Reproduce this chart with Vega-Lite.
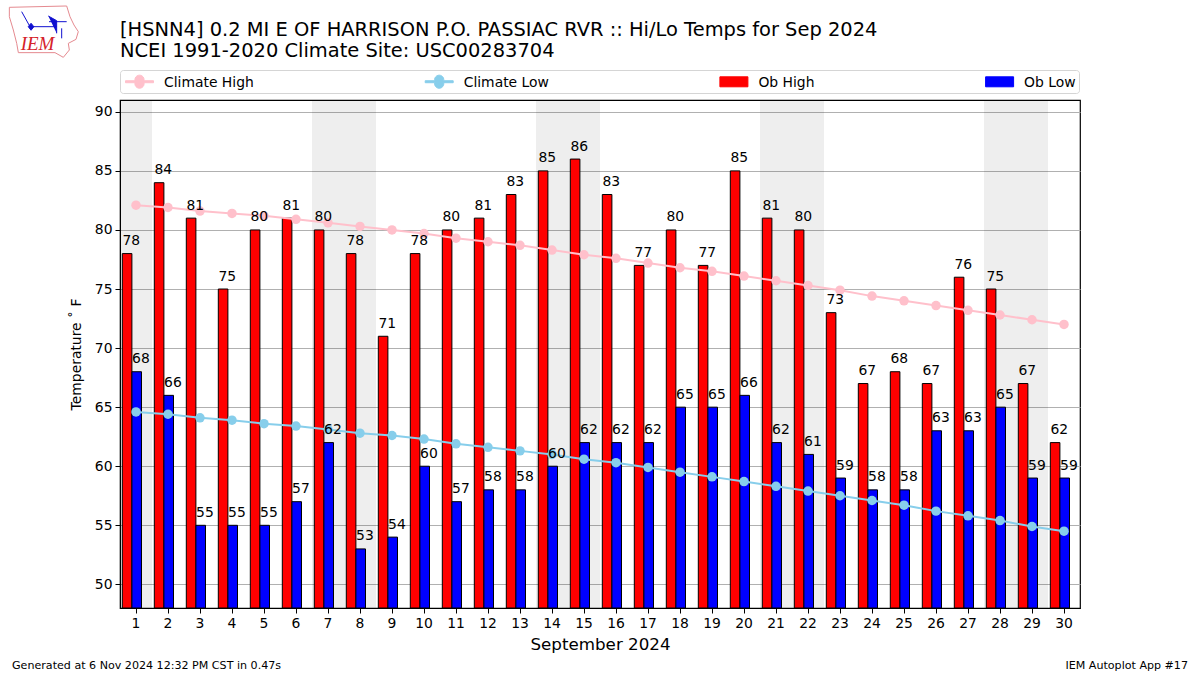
{
"$schema":"https://vega.github.io/schema/vega-lite/v6.json",
"width":960,"height":508,
"autosize":{"type":"none"},
"padding":{"left":120,"top":100,"right":120,"bottom":67},
"background":"white",
"title":{"text":["[HSNN4] 0.2 MI E OF HARRISON P.O. PASSIAC RVR :: Hi/Lo Temps for Sep 2024","NCEI 1991-2020 Climate Site: USC00283704"],"anchor":"start","frame":"group","font":"DejaVu Sans","fontSize":19.45,"fontWeight":"normal","color":"black","lineHeight":21,"offset":-57},
"config":{"font":"DejaVu Sans","view":{"stroke":"black","strokeWidth":1.2}},
"datasets":{
"obs":[
{"day":1,"series":"Ob High","temp":78},{"day":2,"series":"Ob High","temp":84},{"day":3,"series":"Ob High","temp":81},{"day":4,"series":"Ob High","temp":75},{"day":5,"series":"Ob High","temp":80},{"day":6,"series":"Ob High","temp":81},{"day":7,"series":"Ob High","temp":80},{"day":8,"series":"Ob High","temp":78},{"day":9,"series":"Ob High","temp":71},{"day":10,"series":"Ob High","temp":78},{"day":11,"series":"Ob High","temp":80},{"day":12,"series":"Ob High","temp":81},{"day":13,"series":"Ob High","temp":83},{"day":14,"series":"Ob High","temp":85},{"day":15,"series":"Ob High","temp":86},{"day":16,"series":"Ob High","temp":83},{"day":17,"series":"Ob High","temp":77},{"day":18,"series":"Ob High","temp":80},{"day":19,"series":"Ob High","temp":77},{"day":20,"series":"Ob High","temp":85},{"day":21,"series":"Ob High","temp":81},{"day":22,"series":"Ob High","temp":80},{"day":23,"series":"Ob High","temp":73},{"day":24,"series":"Ob High","temp":67},{"day":25,"series":"Ob High","temp":68},{"day":26,"series":"Ob High","temp":67},{"day":27,"series":"Ob High","temp":76},{"day":28,"series":"Ob High","temp":75},{"day":29,"series":"Ob High","temp":67},{"day":30,"series":"Ob High","temp":62},
{"day":1,"series":"Ob Low","temp":68},{"day":2,"series":"Ob Low","temp":66},{"day":3,"series":"Ob Low","temp":55},{"day":4,"series":"Ob Low","temp":55},{"day":5,"series":"Ob Low","temp":55},{"day":6,"series":"Ob Low","temp":57},{"day":7,"series":"Ob Low","temp":62},{"day":8,"series":"Ob Low","temp":53},{"day":9,"series":"Ob Low","temp":54},{"day":10,"series":"Ob Low","temp":60},{"day":11,"series":"Ob Low","temp":57},{"day":12,"series":"Ob Low","temp":58},{"day":13,"series":"Ob Low","temp":58},{"day":14,"series":"Ob Low","temp":60},{"day":15,"series":"Ob Low","temp":62},{"day":16,"series":"Ob Low","temp":62},{"day":17,"series":"Ob Low","temp":62},{"day":18,"series":"Ob Low","temp":65},{"day":19,"series":"Ob Low","temp":65},{"day":20,"series":"Ob Low","temp":66},{"day":21,"series":"Ob Low","temp":62},{"day":22,"series":"Ob Low","temp":61},{"day":23,"series":"Ob Low","temp":59},{"day":24,"series":"Ob Low","temp":58},{"day":25,"series":"Ob Low","temp":58},{"day":26,"series":"Ob Low","temp":63},{"day":27,"series":"Ob Low","temp":63},{"day":28,"series":"Ob Low","temp":65},{"day":29,"series":"Ob Low","temp":59},{"day":30,"series":"Ob Low","temp":59}],
"climate":[
{"day":1,"series":"Climate High","temp":82.1},{"day":2,"series":"Climate High","temp":81.9},{"day":3,"series":"Climate High","temp":81.6},{"day":4,"series":"Climate High","temp":81.4},{"day":5,"series":"Climate High","temp":81.2},{"day":6,"series":"Climate High","temp":80.9},{"day":7,"series":"Climate High","temp":80.6},{"day":8,"series":"Climate High","temp":80.3},{"day":9,"series":"Climate High","temp":80.0},{"day":10,"series":"Climate High","temp":79.7},{"day":11,"series":"Climate High","temp":79.3},{"day":12,"series":"Climate High","temp":79.0},{"day":13,"series":"Climate High","temp":78.7},{"day":14,"series":"Climate High","temp":78.3},{"day":15,"series":"Climate High","temp":77.9},{"day":16,"series":"Climate High","temp":77.6},{"day":17,"series":"Climate High","temp":77.2},{"day":18,"series":"Climate High","temp":76.8},{"day":19,"series":"Climate High","temp":76.5},{"day":20,"series":"Climate High","temp":76.1},{"day":21,"series":"Climate High","temp":75.7},{"day":22,"series":"Climate High","temp":75.3},{"day":23,"series":"Climate High","temp":74.9},{"day":24,"series":"Climate High","temp":74.4},{"day":25,"series":"Climate High","temp":74.0},{"day":26,"series":"Climate High","temp":73.6},{"day":27,"series":"Climate High","temp":73.2},{"day":28,"series":"Climate High","temp":72.8},{"day":29,"series":"Climate High","temp":72.4},{"day":30,"series":"Climate High","temp":72.0},
{"day":1,"series":"Climate Low","temp":64.6},{"day":2,"series":"Climate Low","temp":64.4},{"day":3,"series":"Climate Low","temp":64.1},{"day":4,"series":"Climate Low","temp":63.9},{"day":5,"series":"Climate Low","temp":63.6},{"day":6,"series":"Climate Low","temp":63.4},{"day":7,"series":"Climate Low","temp":63.1},{"day":8,"series":"Climate Low","temp":62.8},{"day":9,"series":"Climate Low","temp":62.6},{"day":10,"series":"Climate Low","temp":62.3},{"day":11,"series":"Climate Low","temp":61.9},{"day":12,"series":"Climate Low","temp":61.6},{"day":13,"series":"Climate Low","temp":61.3},{"day":14,"series":"Climate Low","temp":61.0},{"day":15,"series":"Climate Low","temp":60.6},{"day":16,"series":"Climate Low","temp":60.3},{"day":17,"series":"Climate Low","temp":59.9},{"day":18,"series":"Climate Low","temp":59.5},{"day":19,"series":"Climate Low","temp":59.1},{"day":20,"series":"Climate Low","temp":58.7},{"day":21,"series":"Climate Low","temp":58.3},{"day":22,"series":"Climate Low","temp":57.9},{"day":23,"series":"Climate Low","temp":57.5},{"day":24,"series":"Climate Low","temp":57.1},{"day":25,"series":"Climate Low","temp":56.7},{"day":26,"series":"Climate Low","temp":56.2},{"day":27,"series":"Climate Low","temp":55.8},{"day":28,"series":"Climate Low","temp":55.4},{"day":29,"series":"Climate Low","temp":54.9},{"day":30,"series":"Climate Low","temp":54.5}]
},
"encoding":{
"x":{"field":"day","type":"ordinal","scale":{"domain":[1,2,3,4,5,6,7,8,9,10,11,12,13,14,15,16,17,18,19,20,21,22,23,24,25,26,27,28,29,30],"paddingInner":0,"paddingOuter":0},
"axis":{"title":"September 2024","titleFont":"DejaVu Sans","titleFontSize":16.7,"titleFontWeight":"normal","titleColor":"black","titlePadding":7,"labelAngle":0,"labelFont":"DejaVu Sans","labelFontSize":13.9,"labelColor":"black","labelPadding":3,"tickColor":"black","tickSize":5,"tickWidth":1,"domainColor":"black","grid":false}},
"y":{"field":"temp","type":"quantitative","scale":{"domain":[48,91],"nice":false,"zero":false},
"axis":{"title":"Temperature  ˚ F","titleFont":"DejaVu Sans","titleFontSize":13.9,"titleFontWeight":"normal","titleColor":"black","titlePadding":11,"values":[50,55,60,65,70,75,80,85,90],"labelFont":"DejaVu Sans","labelFontSize":13.9,"labelColor":"black","labelPadding":3,"tickColor":"black","tickSize":5,"tickWidth":1,"domainColor":"black","grid":true,"gridColor":"#b0b0b0","gridWidth":1}}
},
"layer":[
{"data":{"values":[{"day":1},{"day":7},{"day":8},{"day":14},{"day":15},{"day":21},{"day":22},{"day":28},{"day":29}]},
 "mark":{"type":"rect","fill":"#000000","fillOpacity":0.068,"strokeWidth":0},
 "encoding":{"y":{"value":0},"y2":{"value":508}}},
{"data":{"name":"obs"},
 "mark":{"type":"bar","stroke":"black","strokeWidth":1,"clip":true},
 "encoding":{
  "xOffset":{"field":"series","type":"nominal","scale":{"domain":["Ob High","Ob Low"],"paddingInner":0,"paddingOuter":0.6667,"align":0.18}},
  "y":{"field":"temp","type":"quantitative","stack":null},
  "color":{"field":"series","type":"nominal","scale":{"domain":["Climate High","Climate Low","Ob High","Ob Low"],"range":["#ffc0cb","#87ceeb","#ff0000","#0000ff"]},
   "legend":{"orient":"none","legendX":0,"legendY":-30,"title":null,"columns":4,"columnPadding":167.7,"rowPadding":0,"padding":2.5,"symbolSize":400,"symbolOffset":6.5,"labelFont":"DejaVu Sans","labelFontSize":13.9,"labelColor":"black","labelOffset":14,"strokeColor":"#d5d5d5","fillColor":"white","cornerRadius":3,"symbolOpacity":1,
    "encoding":{"symbols":{
     "shape":{"value":{"signal":"indexof(datum.value,'Climate')==0 ? 'M-1.4,-0.25L-0.45,-0.25A0.46,0.46 0 1 1 0.45,-0.25L1.4,-0.25L1.4,-0.05L0.45,-0.05A0.46,0.46 0 1 1 -0.45,-0.05L-1.4,-0.05Z' : 'M-1.4,-0.65L1.4,-0.65L1.4,0.35L-1.4,0.35Z'"}},
     "fill":{"value":{"signal":"datum.value=='Climate High'?'#ffc0cb':datum.value=='Climate Low'?'#87ceeb':datum.value=='Ob High'?'#ff0000':'#0000ff'"}},
     "stroke":{"value":{"signal":"indexof(datum.value,'Ob')==0?'black':'transparent'"}},
     "strokeWidth":{"value":1},"opacity":{"value":1}}}}}
 }},
{"data":{"name":"climate"},
 "mark":{"type":"line","strokeWidth":2,"clip":true,"point":{"filled":true,"size":90,"opacity":1}},
 "encoding":{"color":{"field":"series","type":"nominal"}}},
{"data":{"name":"obs"},
 "mark":{"type":"text","font":"DejaVu Sans","fontSize":13.9,"color":"black","baseline":"alphabetic","dx":4.2,"dy":-8.5},
 "encoding":{"xOffset":{"field":"series","type":"nominal"},"text":{"field":"temp","type":"quantitative"}}},
{"data":{"values":[{"note":"Generated at 6 Nov 2024 12:32 PM CST in 0.47s"}]},
 "mark":{"type":"text","font":"DejaVu Sans","fontSize":11.1,"color":"black","align":"left","baseline":"middle"},
 "encoding":{"x":{"value":-108},"y":{"value":566},"text":{"field":"note"}}},
{"data":{"values":[{"note":"IEM Autoplot App #17"}]},
 "mark":{"type":"text","font":"DejaVu Sans","fontSize":11.1,"color":"black","align":"right","baseline":"middle"},
 "encoding":{"x":{"value":1068},"y":{"value":566},"text":{"field":"note"}}},
{"data":{"values":[{"logo":"outline"}]},
 "mark":{"type":"point","shape":"M-0.99,-0.705L0.648,-0.743L0.743,-0.437L0.857,-0.2L0.98,-0.01L0.914,0.21L0.695,0.324L0.724,0.514L0.552,0.724L0.314,0.59L-0.733,0.59L-0.78,0.324L-0.876,-0.057L-0.99,-0.437Z","size":4900,"filled":false,"stroke":"#e58a90","strokeWidth":1,"opacity":1},
 "encoding":{"x":{"value":-76},"y":{"value":-68}}},
{"data":{"values":[{"logo":"station"}]},
 "mark":{"type":"point","shape":"M-0.37,-0.152L0.362,-0.152M0.124,-0.457L0.362,-0.324L0.362,0.038M0.143,-0.295L0.648,-0.295M0.505,-0.105L0.505,0.181M-0.638,-0.581L-0.4,-0.152M-0.45,-0.152L-0.37,-0.25L-0.29,-0.152L-0.37,-0.05Z","size":4900,"filled":true,"fill":"#1010d0","stroke":"#1010d0","strokeWidth":1,"opacity":1},
 "encoding":{"x":{"value":-76},"y":{"value":-68}}},
{"data":{"values":[{"logo":"IEM"}]},
 "mark":{"type":"text","font":"Liberation Serif","fontStyle":"italic","fontSize":19,"color":"#d5222a","align":"center","baseline":"middle"},
 "encoding":{"x":{"value":-82.5},"y":{"value":-56},"text":{"field":"logo"}}}
]
}
